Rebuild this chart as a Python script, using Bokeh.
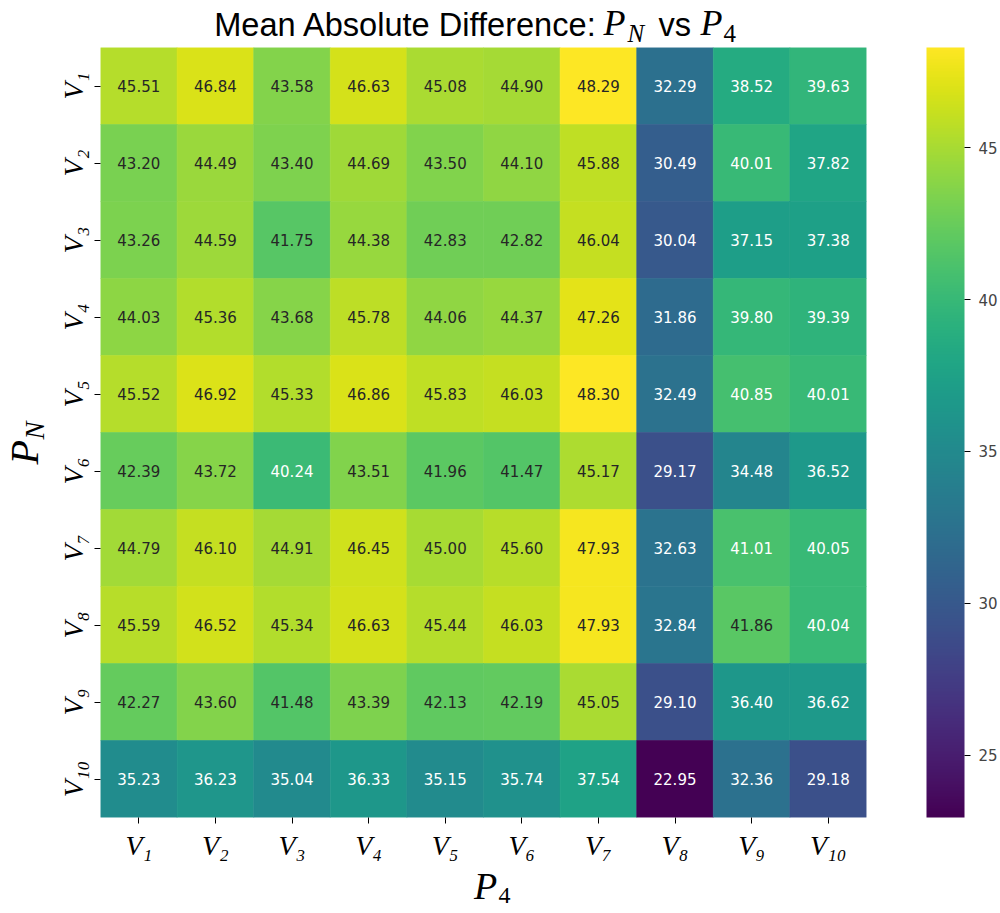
from bokeh.plotting import figure
from bokeh.layouts import column, row
from bokeh.models import (ColumnDataSource, LinearColorMapper, ColorBar, FixedTicker, Range1d)
from bokeh.palettes import Viridis256
from bokeh.transform import transform
from bokeh.core.properties import value
from bokeh.embed import file_html
from bokeh.resources import INLINE

# ---------------- data ----------------
categories = ["V\u2081", "V\u2082", "V\u2083", "V\u2084", "V\u2085",
              "V\u2086", "V\u2087", "V\u2088", "V\u2089", "V\u2081\u2080"]
row_V1 = [45.51, 46.84, 43.58, 46.63, 45.08, 44.90, 48.29, 32.29, 38.52, 39.63]
row_V2 = [43.20, 44.49, 43.40, 44.69, 43.50, 44.10, 45.88, 30.49, 40.01, 37.82]
row_V3 = [43.26, 44.59, 41.75, 44.38, 42.83, 42.82, 46.04, 30.04, 37.15, 37.38]
row_V4 = [44.03, 45.36, 43.68, 45.78, 44.06, 44.37, 47.26, 31.86, 39.80, 39.39]
row_V5 = [45.52, 46.92, 45.33, 46.86, 45.83, 46.03, 48.30, 32.49, 40.85, 40.01]
row_V6 = [42.39, 43.72, 40.24, 43.51, 41.96, 41.47, 45.17, 29.17, 34.48, 36.52]
row_V7 = [44.79, 46.10, 44.91, 46.45, 45.00, 45.60, 47.93, 32.63, 41.01, 40.05]
row_V8 = [45.59, 46.52, 45.34, 46.63, 45.44, 46.03, 47.93, 32.84, 41.86, 40.04]
row_V9 = [42.27, 43.60, 41.48, 43.39, 42.13, 42.19, 45.05, 29.10, 36.40, 36.62]
row_V10 = [35.23, 36.23, 35.04, 36.33, 35.15, 35.74, 37.54, 22.95, 32.36, 29.18]
colorbar_ticks = [25, 30, 35, 40, 45]

rows = [row_V1, row_V2, row_V3, row_V4, row_V5, row_V6, row_V7, row_V8, row_V9, row_V10]

all_vals = [v for r in rows for v in r]
low, high = min(all_vals), max(all_vals)
mapper = LinearColorMapper(palette=Viridis256, low=low, high=high)


def lum_text_color(v):
    t = (v - low) / (high - low)
    idx = min(255, max(0, int(t * 256)))
    hexc = Viridis256[idx].lstrip("#")
    rgb = [int(hexc[i:i + 2], 16) / 255.0 for i in (0, 2, 4)]
    lin = [c / 12.92 if c <= 0.03928 else ((c + 0.055) / 1.055) ** 2.4 for c in rgb]
    lum = 0.2126 * lin[0] + 0.7152 * lin[1] + 0.0722 * lin[2]
    return "#262626" if lum > 0.408 else "#ffffff"


xs, ys, vals, txt, tcol = [], [], [], [], []
for yi, r in zip(categories, rows):
    for xi, v in zip(categories, r):
        xs.append(xi)
        ys.append(yi)
        vals.append(v)
        txt.append(f"{v:.2f}")
        tcol.append(lum_text_color(v))

source = ColumnDataSource(dict(x=xs, y=ys, val=vals, label=txt, tc=tcol))

# ---------------- layout sizes (pixels) ----------------
TOTAL_W = 1000
TITLE_H = 47
MAIN_H = 818
BOTTOM_H = 46
LEFT_W = 50


def text_panel(w, h, x0, y0):
    """A blank figure whose coordinates are page pixels (y downward)."""
    f = figure(width=w, height=h, output_backend="svg", toolbar_location=None,
               x_range=Range1d(x0, x0 + w), y_range=Range1d(y0 + h, y0),
               x_axis_location=None, y_axis_location=None,
               min_border=0, min_border_left=0, min_border_right=0,
               min_border_top=0, min_border_bottom=0)
    f.outline_line_color = None
    f.grid.visible = False
    return f


def txt_glyph(f, s, x, y, font, size, style="normal", angle=0.0, align="left"):
    f.text(x=[x], y=[y], text=[s], text_font=value(font), text_font_size=size,
           text_font_style=style, angle=angle, text_align=align,
           text_baseline="middle", text_color="black")


# ---- title panel ----
title_fig = text_panel(TOTAL_W, TITLE_H, 0, 0)
txt_glyph(title_fig, "Mean Absolute Difference:", 597, 24, "Liberation Sans", "32.6px", align="right")
txt_glyph(title_fig, "P", 603, 22, "Liberation Serif", "36px", "italic")
txt_glyph(title_fig, "N", 627, 33, "Liberation Serif", "25px", "italic")
txt_glyph(title_fig, "vs", 658, 24, "Liberation Sans", "32.6px")
txt_glyph(title_fig, "P", 700, 22, "Liberation Serif", "36px", "italic")
txt_glyph(title_fig, "4", 723, 33, "Liberation Serif", "25px")

# ---- left panel (y axis title) ----
left_fig = text_panel(LEFT_W, MAIN_H, 0, TITLE_H)
txt_glyph(left_fig, "P", 24, 477, "Liberation Serif", "40px", "italic", angle=1.5707963, align="center")
txt_glyph(left_fig, "N", 34, 454, "Liberation Serif", "27px", "italic", angle=1.5707963, align="center")

# ---- bottom panel (x axis title) ----
bottom_fig = text_panel(TOTAL_W, BOTTOM_H, 0, TITLE_H + MAIN_H)
txt_glyph(bottom_fig, "P", 485, 885, "Liberation Serif", "38px", "italic", align="center")
txt_glyph(bottom_fig, "4", 504, 895, "Liberation Serif", "24px", align="center")

# ---- main heatmap ----
p = figure(x_range=categories, y_range=list(reversed(categories)),
           width=TOTAL_W - LEFT_W, height=MAIN_H, output_backend="svg", toolbar_location=None,
           min_border_left=50, min_border_right=133, min_border_top=0, min_border_bottom=48)
p.outline_line_color = None
p.grid.visible = False

p.rect(x="x", y="y", width=1, height=1, source=source,
       fill_color=transform("val", mapper), line_color=transform("val", mapper), line_width=0.6)
p.text(x="x", y="y", text="label", source=source, text_color="tc",
       text_align="center", text_baseline="middle",
       text_font=value("DejaVu Sans"), text_font_size="15px")

for ax in (p.xaxis[0], p.yaxis[0]):
    ax.major_label_text_font = "Liberation Serif"
    ax.major_label_text_font_style = "italic"
    ax.major_label_text_font_size = "28px"
    ax.major_label_text_color = "black"
    ax.axis_line_color = None
    ax.major_tick_out = 6
    ax.major_tick_in = 0
    ax.major_tick_line_color = "black"
    ax.major_label_standoff = 6
p.yaxis.major_label_orientation = "vertical"

cb = ColorBar(color_mapper=mapper, ticker=FixedTicker(ticks=colorbar_ticks),
              width=38, height=770, location=(60, 0), padding=0, margin=0,
              major_tick_out=6, major_tick_in=0, major_tick_line_color="black",
              minor_tick_line_color=None, bar_line_color=None, border_line_color=None,
              major_label_text_font="DejaVu Sans", major_label_text_font_size="15px",
              label_standoff=8, background_fill_color=None)
p.add_layout(cb, "right")

layout = column(title_fig, row(left_fig, p, spacing=0), bottom_fig, spacing=0)

open("out.html", "w").write(file_html(layout, INLINE))
